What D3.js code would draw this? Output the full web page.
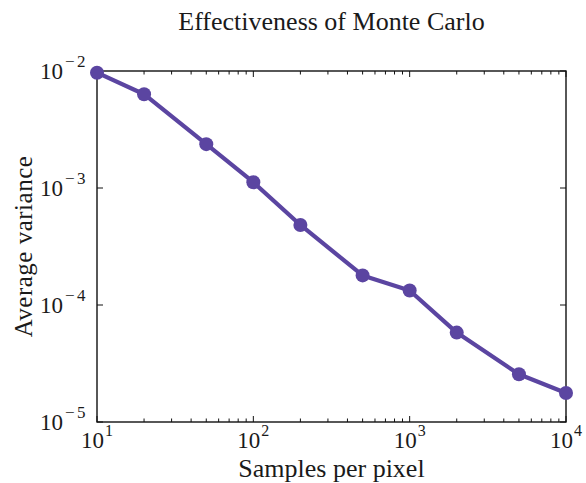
<!DOCTYPE html>
<html>
<head>
<meta charset="utf-8">
<script src="https://cdn.jsdelivr.net/npm/d3@7"></script>
<style>
  body { margin: 0; background: #fff; }
  svg { display: block; }
  text { font-family: "Liberation Serif", "DejaVu Serif", serif; fill: #1a1a1a; }
</style>
</head>
<body>
<svg id="chart" width="586" height="483"></svg>
<script>
// Samples per pixel and the measured average variance
const samples = [10, 20, 50, 100, 200, 500, 1000, 2000, 5000, 10000];
const variance = [0.00967, 0.00633, 0.00237, 0.00112, 0.000483, 0.000179, 0.000133, 0.0000581, 0.0000256, 0.0000177];
const xTickExps = [1, 2, 3, 4];
const yTickExps = [-2, -3, -4, -5];

const W = 586, H = 483;
const m = { left: 97, right: 20, top: 71, bottom: 61 };
const svg = d3.select("#chart");
const x = d3.scaleLog().domain([10, 10000]).range([m.left, W - m.right]);
const y = d3.scaleLog().domain([1e-5, 1e-2]).range([H - m.bottom, m.top]);
const color = "#5b45a1";

// Minor ticks for the x axis (2..9 within each decade)
const xMinor = [];
for (let e = 1; e < 4; e++) for (let k = 2; k <= 9; k++) xMinor.push(k * Math.pow(10, e));

const g = svg.append("g");
const x0 = x.range()[0], x1 = x.range()[1], y0 = y.range()[0], y1 = y.range()[1];

// Frame
g.append("rect").attr("x", x0).attr("y", y1).attr("width", x1 - x0).attr("height", y0 - y1)
  .attr("fill", "none").attr("stroke", "#111").attr("stroke-width", 1.4);

// X ticks, drawn inward on both bottom and top
xMinor.forEach(v => {
  g.append("line").attr("x1", x(v)).attr("x2", x(v)).attr("y1", y0).attr("y2", y0 - 3.5).attr("stroke", "#111").attr("stroke-width", 1);
  g.append("line").attr("x1", x(v)).attr("x2", x(v)).attr("y1", y1).attr("y2", y1 + 3.5).attr("stroke", "#111").attr("stroke-width", 1);
});
xTickExps.forEach(e => {
  const v = Math.pow(10, e);
  g.append("line").attr("x1", x(v)).attr("x2", x(v)).attr("y1", y0).attr("y2", y0 - 6).attr("stroke", "#111").attr("stroke-width", 1);
  g.append("line").attr("x1", x(v)).attr("x2", x(v)).attr("y1", y1).attr("y2", y1 + 6).attr("stroke", "#111").attr("stroke-width", 1);
});
// Y major ticks, inward on left and right
yTickExps.forEach(e => {
  const v = Math.pow(10, e);
  g.append("line").attr("x1", x0).attr("x2", x0 + 6).attr("y1", y(v)).attr("y2", y(v)).attr("stroke", "#111").attr("stroke-width", 1);
  g.append("line").attr("x1", x1).attr("x2", x1 - 6).attr("y1", y(v)).attr("y2", y(v)).attr("stroke", "#111").attr("stroke-width", 1);
});

// Tick labels as 10 with superscript exponent
xTickExps.forEach(e => {
  const t = g.append("text").attr("x", x(Math.pow(10, e))).attr("y", y0 + 26)
    .attr("text-anchor", "middle").attr("font-size", 23);
  t.append("tspan").text("10");
  t.append("tspan").attr("dy", -12).attr("dx", 1).attr("font-size", 16).text(String(e));
});
yTickExps.forEach(e => {
  const t = g.append("text").attr("x", x0 - 9).attr("y", y(Math.pow(10, e)) + 8)
    .attr("text-anchor", "end").attr("font-size", 23);
  t.append("tspan").text("10");
  t.append("tspan").attr("dy", -12).attr("dx", 2).attr("font-size", 17)
    .attr("letter-spacing", 2.5).text("\u2212" + String(-e));
});

// Titles
svg.append("text").attr("x", (x0 + x1) / 2).attr("y", 30).attr("text-anchor", "middle")
  .attr("font-size", 26).text("Effectiveness of Monte Carlo");
svg.append("text").attr("x", (x0 + x1) / 2).attr("y", 477).attr("text-anchor", "middle")
  .attr("font-size", 26).text("Samples per pixel");
svg.append("text").attr("transform", `translate(32,${(y0 + y1) / 2}) rotate(-90)`)
  .attr("text-anchor", "middle").attr("font-size", 25).attr("letter-spacing", 0.5).text("Average variance");

// Series line and markers
const data = samples.map((s, i) => ({ s, v: variance[i] }));
g.append("path").datum(data)
  .attr("d", d3.line().x(d => x(d.s)).y(d => y(d.v)))
  .attr("fill", "none").attr("stroke", color).attr("stroke-width", 4.2).attr("stroke-linejoin", "round");
g.selectAll("circle").data(data).join("circle")
  .attr("cx", d => x(d.s)).attr("cy", d => y(d.v)).attr("r", 7).attr("fill", color);
</script>
</body>
</html>
